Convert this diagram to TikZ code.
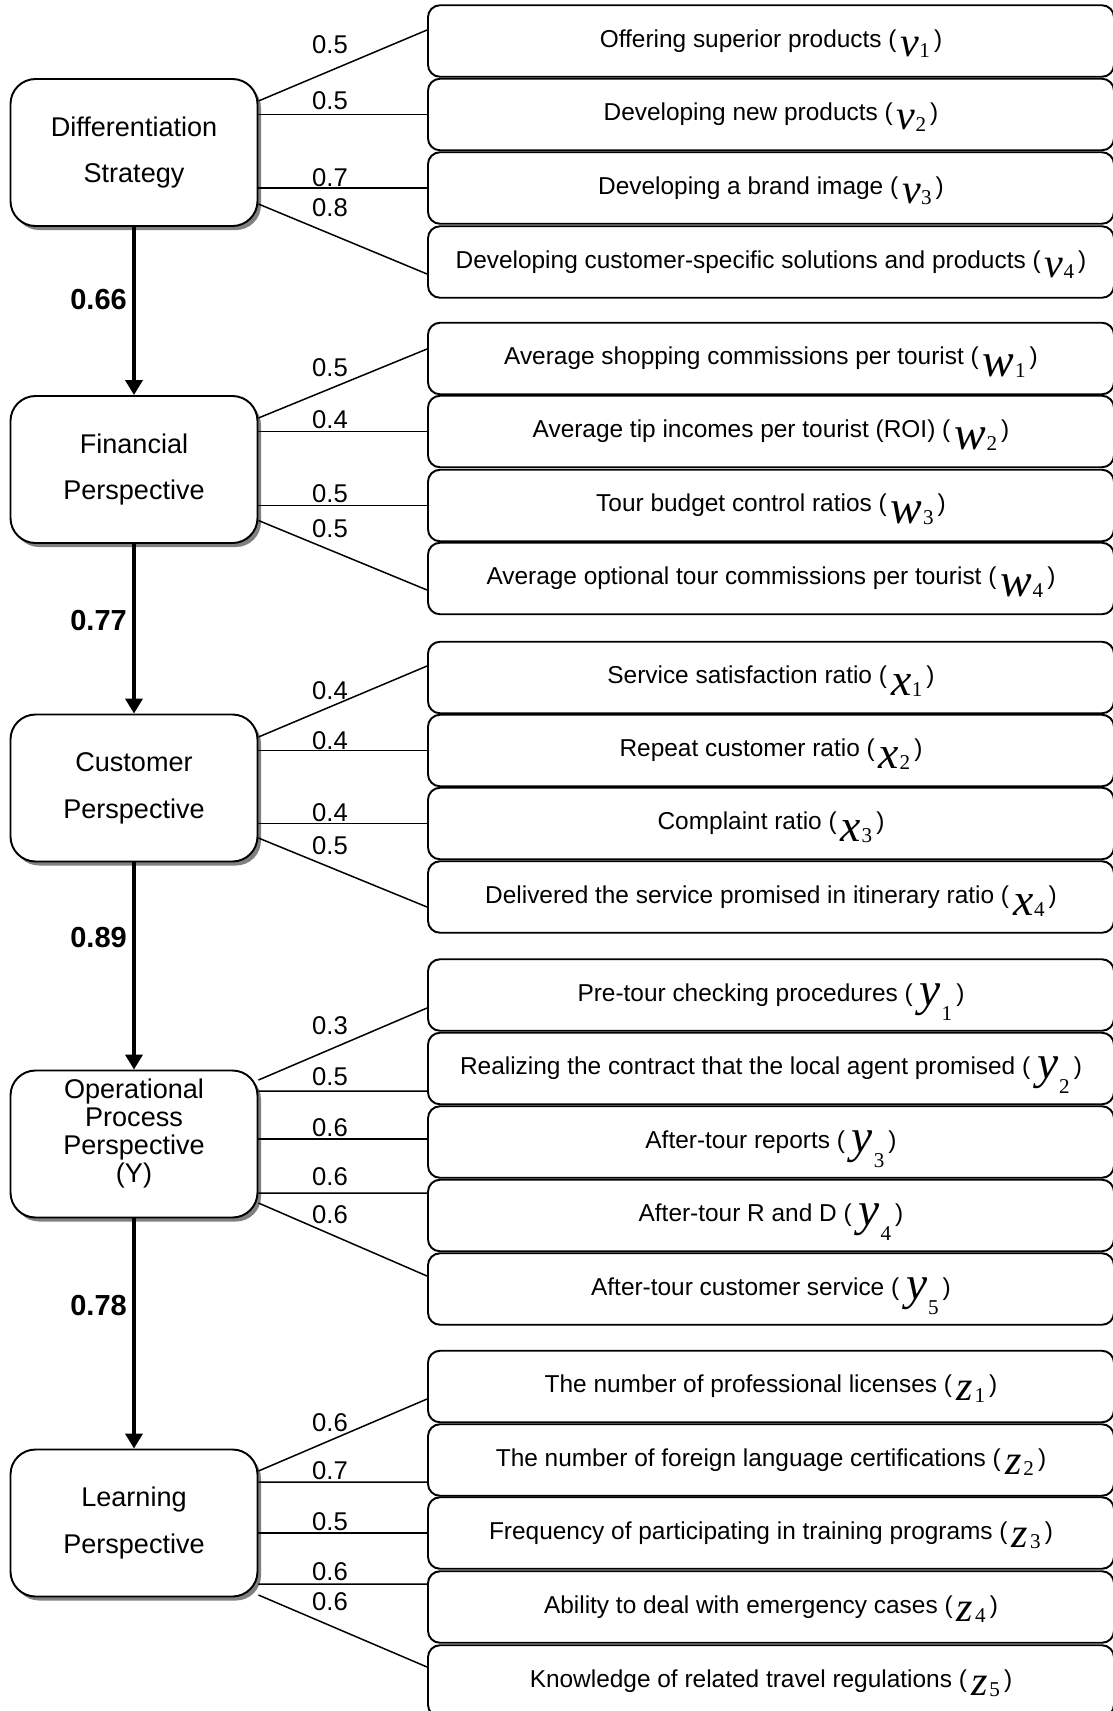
\documentclass[tikz,border=0pt]{standalone}
\usepackage{fontspec}
\setmainfont{Liberation Sans}
\newfontfamily\varfont{Liberation Serif}
\usepackage{tikz}
\usetikzlibrary{arrows.meta,shadows}

% indicator symbols: letter, index, size, drop of letter, drop of index, kern before index
\newcommand{\ivar}[6]{\raisebox{-#4}[0pt][0pt]{\varfont\fontsize{#3}{#3}\selectfont\itshape #1\kern#6\raisebox{-#5}{\fontsize{12}{12}\selectfont\upshape #2}}}
\newcommand{\vind}[1]{\ivar{v}{#1}{24}{0.18cm}{0.03cm}{0cm}}
\newcommand{\wind}[1]{\ivar{w}{#1}{27}{0.24cm}{0.02cm}{0.01cm}}
\newcommand{\xind}[1]{\ivar{x}{#1}{26}{0.24cm}{0.02cm}{0.01cm}}
\newcommand{\yind}[1]{\ivar{y}{#1}{27}{0.08cm}{0.3cm}{0.02cm}}
\newcommand{\zind}[1]{\ivar{z}{#1}{24}{0.16cm}{0.03cm}{0.04cm}}

\begin{document}
\begin{tikzpicture}[
  pers/.style={draw, rectangle, rounded corners=0.5cm, line width=1.1pt, fill=white,
               minimum width=4.94cm, minimum height=2.94cm, align=center,
               font=\fontsize{15.4}{26.7}\selectfont,
               drop shadow={shadow xshift=0.07cm, shadow yshift=-0.08cm, fill=black!50, opacity=1}},
  ind/.style={draw, rectangle, rounded corners=0.24cm, line width=1.1pt, fill=white,
              minimum width=13.72cm, minimum height=1.43cm, text height=10pt, text depth=3pt,
              font=\fontsize{13.9}{16}\selectfont},
  wt/.style={font=\fontsize{14.6}{16}\selectfont, inner sep=0pt},
  coef/.style={font=\fontsize{16.5}{18}\selectfont\bfseries, inner sep=0pt},
  ln/.style={line width=0.85pt},
  arr/.style={-{Triangle[length=0.3cm, width=0.34cm]}, line width=2.5pt}
]
\useasboundingbox (0,0) rectangle (22.24,-34.22);

% ─── Perspectives (left column) ───
\node[pers] (diff)  at (2.68, -3.05)  {Differentiation\\Strategy};
\node[pers] (fin)   at (2.68, -9.39)  {Financial\\Perspective};
\node[pers] (cust)  at (2.68, -15.76) {Customer\\Perspective};
\node[pers] (oper)  at (2.68, -22.88) {};
\node[align=center, font=\fontsize{15.4}{16}\selectfont] (opertext)
     at ([yshift=0.21cm]oper.center) {Operational\\Process\\Perspective\\(Y)};
\node[pers] (learn) at (2.68, -30.46) {Learning\\Perspective};

% ─── Differentiation indicators ───
\node[ind] (v1) at (15.42, -0.82) {Offering superior products (\,\vind{1}\,)};
\node[ind] (v2) at (15.42, -2.29) {Developing new products (\,\vind{2}\,)};
\node[ind] (v3) at (15.42, -3.76) {Developing a brand image (\,\vind{3}\,)};
\node[ind] (v4) at (15.42, -5.24) {Developing customer-specific solutions and products (\,\vind{4}\,)};

% ─── Financial indicators ───
\node[ind] (w1) at (15.42, -7.17)  {Average shopping commissions per tourist (\,\wind{1}\,)};
\node[ind] (w2) at (15.42, -8.63)  {Average tip incomes per tourist (ROI) (\,\wind{2}\,)};
\node[ind] (w3) at (15.42, -10.11) {Tour budget control ratios (\,\wind{3}\,)};
\node[ind] (w4) at (15.42, -11.57) {Average optional tour commissions per tourist (\,\wind{4}\,)};

% ─── Customer indicators ───
\node[ind] (x1) at (15.42, -13.55) {Service satisfaction ratio (\,\xind{1}\,)};
\node[ind] (x2) at (15.42, -15.01) {Repeat customer ratio (\,\xind{2}\,)};
\node[ind] (x3) at (15.42, -16.47) {Complaint ratio (\,\xind{3}\,)};
\node[ind] (x4) at (15.42, -17.94) {Delivered the service promised in itinerary ratio (\,\xind{4}\,)};

% ─── Operational process indicators ───
\node[ind] (y1) at (15.42, -19.90) {Pre-tour checking procedures ( \yind{1}\,)};
\node[ind] (y2) at (15.42, -21.37) {Realizing the contract that the local agent promised ( \yind{2}\,)};
\node[ind] (y3) at (15.42, -22.84) {After-tour reports ( \yind{3}\,)};
\node[ind] (y4) at (15.42, -24.31) {After-tour R and D ( \yind{4}\,)};
\node[ind] (y5) at (15.42, -25.78) {After-tour customer service ( \yind{5}\,)};

% ─── Learning indicators ───
\node[ind] (z1) at (15.42, -27.73) {The number of professional licenses (\,\zind{1}\,)};
\node[ind] (z2) at (15.42, -29.20) {The number of foreign language certifications (\,\zind{2}\,)};
\node[ind] (z3) at (15.42, -30.66) {Frequency of participating in training programs (\,\zind{3}\,)};
\node[ind] (z4) at (15.42, -32.14) {Ability to deal with emergency cases (\,\zind{4}\,)};
\node[ind] (z5) at (15.42, -33.62) {Knowledge of related travel regulations (\,\zind{5}\,)};

% ─── Path coefficients ───
\draw[arr] (diff) -- (fin)   node[coef, pos=0.43, left=0.1cm] (c1) {0.66};
\draw[arr] (fin)  -- (cust)  node[coef, pos=0.45, left=0.1cm] (c2) {0.77};
\draw[arr] (cust) -- (oper)  node[coef, pos=0.36, left=0.1cm] (c3) {0.89};
\draw[arr] (oper) -- (learn) node[coef, pos=0.38, left=0.1cm] (c4) {0.78};

% ─── Loadings: differentiation ───
\draw[ln] ([yshift=1.03cm]diff.east) -- ([yshift=0.22cm]v1.west);
\draw[ln] (diff.east |- v2.west) -- (v2.west);
\draw[ln] (diff.east |- v3.west) -- (v3.west);
\draw[ln] ([yshift=-1.03cm]diff.east) -- ([yshift=-0.24cm]v4.west);
\node[wt] (lv1) at (6.60, -0.90) {0.5};
\node[wt] (lv2) at (6.60, -2.02) {0.5};
\node[wt] (lv3) at (6.60, -3.56) {0.7};
\node[wt] (lv4) at (6.60, -4.16) {0.8};

% ─── Loadings: financial ───
\draw[ln] ([yshift=1.03cm]fin.east) -- ([yshift=0.19cm]w1.west);
\draw[ln] (fin.east |- w2.west) -- (w2.west);
\draw[ln] (fin.east |- w3.west) -- (w3.west);
\draw[ln] ([yshift=-1.02cm]fin.east) -- ([yshift=-0.23cm]w4.west);
\node[wt] (lw1) at (6.60, -7.36)  {0.5};
\node[wt] (lw2) at (6.60, -8.40)  {0.4};
\node[wt] (lw3) at (6.60, -9.88)  {0.5};
\node[wt] (lw4) at (6.60, -10.58) {0.5};

% ─── Loadings: customer ───
\draw[ln] ([yshift=1.02cm]cust.east) -- ([yshift=0.23cm]x1.west);
\draw[ln] (cust.east |- x2.west) -- (x2.west);
\draw[ln] (cust.east |- x3.west) -- (x3.west);
\draw[ln] ([yshift=-1.00cm]cust.east) -- ([yshift=-0.20cm]x4.west);
\node[wt] (lx1) at (6.60, -13.82) {0.4};
\node[wt] (lx2) at (6.60, -14.82) {0.4};
\node[wt] (lx3) at (6.60, -16.26) {0.4};
\node[wt] (lx4) at (6.60, -16.92) {0.5};

% ─── Loadings: operational process ───
\draw[ln] ([yshift=1.28cm]oper.east)  -- ([yshift=-0.26cm]y1.west);
\draw[ln] ([yshift=1.06cm]oper.east)  -- ([yshift=-0.45cm]y2.west);
\draw[ln] ([yshift=0.10cm]oper.east)  -- ([yshift=0.06cm]y3.west);
\draw[ln] ([yshift=-0.98cm]oper.east) -- ([yshift=0.45cm]y4.west);
\draw[ln] ([yshift=-1.18cm]oper.east) -- ([yshift=0.26cm]y5.west);
\node[wt] (ly1) at (6.60, -20.52) {0.3};
\node[wt] (ly2) at (6.60, -21.54) {0.5};
\node[wt] (ly3) at (6.60, -22.56) {0.6};
\node[wt] (ly4) at (6.60, -23.54) {0.6};
\node[wt] (ly5) at (6.60, -24.30) {0.6};

% ─── Loadings: learning ───
\draw[ln] ([yshift=1.04cm]learn.east)  -- ([yshift=-0.25cm]z1.west);
\draw[ln] ([yshift=0.82cm]learn.east)  -- ([yshift=-0.44cm]z2.west);
\draw[ln] ([yshift=-0.20cm]learn.east) -- (z3.west);
\draw[ln] ([yshift=-1.22cm]learn.east) -- ([yshift=0.46cm]z4.west);
\draw[ln] ([yshift=-1.44cm]learn.east) -- ([yshift=0.28cm]z5.west);
\node[wt] (lz1) at (6.60, -28.46) {0.6};
\node[wt] (lz2) at (6.60, -29.42) {0.7};
\node[wt] (lz3) at (6.60, -30.44) {0.5};
\node[wt] (lz4) at (6.60, -31.44) {0.6};
\node[wt] (lz5) at (6.60, -32.04) {0.6};

\end{tikzpicture}
\end{document}
